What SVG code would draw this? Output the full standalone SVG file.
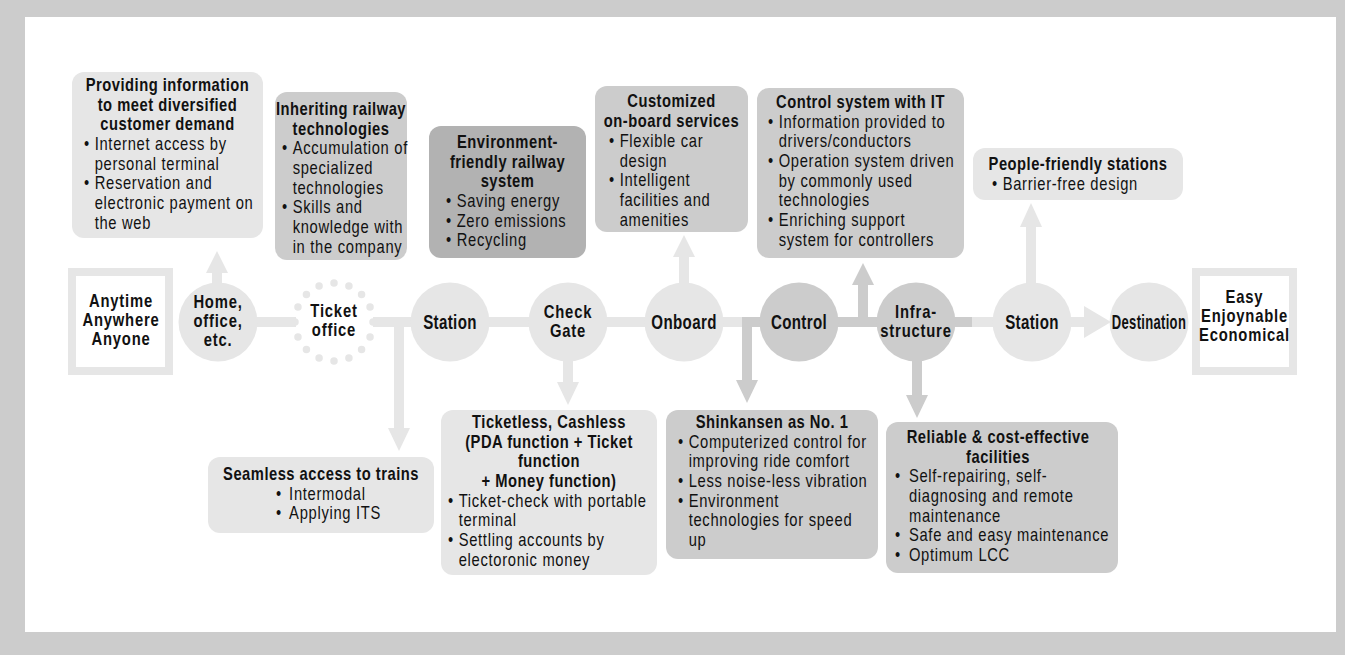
<svg xmlns="http://www.w3.org/2000/svg" width="1345" height="655" viewBox="0 0 1345 655">
<style>
text{font-family:"Liberation Sans",Arial,sans-serif;fill:#111111}
.t{font-size:18px;font-weight:bold;letter-spacing:0.6px}
.r{font-size:18px;letter-spacing:0.85px}
.c1{font-size:21px;font-weight:bold;letter-spacing:0.5px}
.c2{font-size:18.5px;font-weight:bold;letter-spacing:1px}
.e{font-size:18.5px;font-weight:bold;letter-spacing:1px}
.L{fill:#e6e6e6}
.M{fill:#cccccc}
.D{fill:#b2b2b2}
</style>
<rect x="0" y="0" width="1345" height="655" fill="#cccccc"/>
<rect x="25" y="17" width="1311" height="615" fill="#ffffff"/>

<g id="connectors">
<rect class="L" x="255" y="317" width="41" height="10"/>
<rect class="L" x="373" y="317" width="40" height="10"/>
<rect class="L" x="488" y="317" width="42" height="10"/>
<rect class="L" x="606" y="317" width="40" height="10"/>
<rect class="L" x="722" y="317" width="20" height="10"/>
<rect class="M" x="742" y="317" width="138" height="10"/>
<rect class="M" x="953" y="317" width="19" height="10"/>
<rect class="L" x="972" y="317" width="23" height="10"/>
<path class="L" d="M1070 317H1084V306L1111 322L1084 338V327H1070Z"/>
<path class="L" d="M212 284V273H206L217 251L228 273H222V284Z"/>
<path class="L" d="M679 284V257H673L684 235L695 257H689V284Z"/>
<path class="M" d="M858 322V285H852L863 263L874 285H868V322Z"/>
<path class="L" d="M1026 284V227H1020L1031 203L1042 227H1036V284Z"/>
<path class="L" d="M394 322V428H388L399 451L410 428H404V322Z"/>
<path class="L" d="M563 358V382H557L568 405L579 382H573V358Z"/>
<path class="M" d="M742 317V380H736L747 403L758 380H752V317Z"/>
<path class="M" d="M912 356V395H906L917 418L928 395H922V356Z"/>
</g>

<g id="n-anytime">
<rect x="72" y="272" width="97" height="99" fill="#ffffff" stroke="#e6e6e6" stroke-width="8"/>
<g transform="translate(121 0) scale(0.8 1)"><text class="e" text-anchor="middle"><tspan x="0" y="307">Anytime</tspan><tspan x="0" y="326">Anywhere</tspan><tspan x="0" y="345">Anyone</tspan></text></g>
</g>
<g id="n-home">
<circle class="L" cx="218" cy="322" r="39.5"/>
<g transform="translate(218 0) scale(0.8 1)"><text class="c2" text-anchor="middle"><tspan x="0" y="308.5">Home,</tspan><tspan x="0" y="327.5">office,</tspan><tspan x="0" y="346.5">etc.</tspan></text></g>
</g>
<g id="n-ticket">
<circle cx="334" cy="322" r="39" fill="none" stroke="#e6e6e6" stroke-width="7.5" stroke-linecap="round" stroke-dasharray="0 10" pathLength="160"/>
<g transform="translate(334 0) scale(0.8 1)"><text class="c2" text-anchor="middle"><tspan x="0" y="317.5">Ticket</tspan><tspan x="0" y="336.5">office</tspan></text></g>
</g>
<g id="n-station1">
<circle class="L" cx="450" cy="322" r="39.5"/>
<g transform="translate(450 0) scale(0.72 1)"><text class="c1" text-anchor="middle" x="0" y="329.5">Station</text></g>
</g>
<g id="n-check">
<circle class="L" cx="568" cy="322" r="39.5"/>
<g transform="translate(568 0) scale(0.8 1)"><text class="c2" text-anchor="middle"><tspan x="0" y="318.5">Check</tspan><tspan x="0" y="337.5">Gate</tspan></text></g>
</g>
<g id="n-onboard">
<circle class="L" cx="684" cy="322" r="39.5"/>
<g transform="translate(684 0) scale(0.72 1)"><text class="c1" text-anchor="middle" x="0" y="329.5">Onboard</text></g>
</g>
<g id="n-control">
<circle class="M" cx="799" cy="322" r="39.5"/>
<g transform="translate(799 0) scale(0.72 1)"><text class="c1" text-anchor="middle" x="0" y="329.5">Control</text></g>
</g>
<g id="n-infra">
<circle class="M" cx="916" cy="322" r="39.5"/>
<g transform="translate(916 0) scale(0.8 1)"><text class="c2" text-anchor="middle"><tspan x="0" y="318.5">Infra-</tspan><tspan x="0" y="337.5">structure</tspan></text></g>
</g>
<g id="n-station2">
<circle class="L" cx="1032" cy="322" r="39.5"/>
<g transform="translate(1032 0) scale(0.72 1)"><text class="c1" text-anchor="middle" x="0" y="329.5">Station</text></g>
</g>
<g id="n-destination">
<circle class="L" cx="1149" cy="322" r="39.5"/>
<g transform="translate(1149 0) scale(0.62 1)"><text class="c1" text-anchor="middle" x="0" y="329.5">Destination</text></g>
</g>
<g id="n-easy">
<rect x="1196" y="272" width="97" height="99" fill="#ffffff" stroke="#e6e6e6" stroke-width="8"/>
<g transform="translate(1244.5 0) scale(0.8 1)"><text class="e" text-anchor="middle"><tspan x="0" y="303">Easy</tspan><tspan x="0" y="322">Enjoynable</tspan><tspan x="0" y="341">Economical</tspan></text></g>
</g>

<g id="b-providing">
<rect class="L" x="72" y="72" width="191" height="166" rx="12"/>
<g transform="translate(167.5 0) scale(0.82 1)"><text class="t" text-anchor="middle"><tspan x="0" y="91">Providing information</tspan><tspan x="0" y="110.7">to meet diversified</tspan><tspan x="0" y="130.4">customer demand</tspan></text></g>
<g transform="translate(84 0) scale(0.82 1)"><text class="r"><tspan x="0" y="150.1">•</tspan><tspan x="13">Internet access by</tspan><tspan x="13" y="169.8">personal terminal</tspan><tspan x="0" y="189.5">•</tspan><tspan x="13">Reservation and</tspan><tspan x="13" y="209.2">electronic payment on</tspan><tspan x="13" y="228.9">the web</tspan></text></g>
</g>
<g id="b-inheriting">
<rect class="M" x="275" y="92" width="132" height="168" rx="12"/>
<g transform="translate(341 0) scale(0.82 1)"><text class="t" text-anchor="middle"><tspan x="0" y="115">Inheriting railway</tspan><tspan x="0" y="134.7">technologies</tspan></text></g>
<g transform="translate(282 0) scale(0.82 1)"><text class="r"><tspan x="0" y="154.4">•</tspan><tspan x="13">Accumulation of</tspan><tspan x="13" y="174.1">specialized</tspan><tspan x="13" y="193.8">technologies</tspan><tspan x="0" y="213.5">•</tspan><tspan x="13">Skills and</tspan><tspan x="13" y="233.2">knowledge with</tspan><tspan x="13" y="252.9">in the company</tspan></text></g>
</g>
<g id="b-environment">
<rect class="D" x="429" y="126" width="157" height="132" rx="12"/>
<g transform="translate(507.5 0) scale(0.82 1)"><text class="t" text-anchor="middle"><tspan x="0" y="148">Environment-</tspan><tspan x="0" y="167.7">friendly railway</tspan><tspan x="0" y="187.4">system</tspan></text></g>
<g transform="translate(446 0) scale(0.82 1)"><text class="r"><tspan x="0" y="207.1">•</tspan><tspan x="13">Saving energy</tspan><tspan x="0" y="226.8">•</tspan><tspan x="13">Zero emissions</tspan><tspan x="0" y="246.5">•</tspan><tspan x="13">Recycling</tspan></text></g>
</g>
<g id="b-customized">
<rect class="M" x="595" y="86" width="153" height="146" rx="12"/>
<g transform="translate(671.5 0) scale(0.82 1)"><text class="t" text-anchor="middle"><tspan x="0" y="107.5">Customized</tspan><tspan x="0" y="127.2">on-board services</tspan></text></g>
<g transform="translate(609 0) scale(0.82 1)"><text class="r"><tspan x="0" y="146.9">•</tspan><tspan x="13">Flexible car</tspan><tspan x="13" y="166.6">design</tspan><tspan x="0" y="186.3">•</tspan><tspan x="13">Intelligent</tspan><tspan x="13" y="206">facilities and</tspan><tspan x="13" y="225.7">amenities</tspan></text></g>
</g>
<g id="b-controlsys">
<rect class="M" x="757" y="88" width="207" height="170" rx="12"/>
<g transform="translate(860.5 0) scale(0.82 1)"><text class="t" text-anchor="middle"><tspan x="0" y="108">Control system with IT</tspan></text></g>
<g transform="translate(768 0) scale(0.82 1)"><text class="r"><tspan x="0" y="127.7">•</tspan><tspan x="13">Information provided to</tspan><tspan x="13" y="147.4">drivers/conductors</tspan><tspan x="0" y="167.1">•</tspan><tspan x="13">Operation system driven</tspan><tspan x="13" y="186.8">by commonly used</tspan><tspan x="13" y="206.5">technologies</tspan><tspan x="0" y="226.2">•</tspan><tspan x="13">Enriching support</tspan><tspan x="13" y="245.9">system for controllers</tspan></text></g>
</g>
<g id="b-people">
<rect class="L" x="973" y="148" width="210" height="52" rx="12"/>
<g transform="translate(1078 0) scale(0.82 1)"><text class="t" text-anchor="middle"><tspan x="0" y="170">People-friendly stations</tspan></text></g>
<g transform="translate(992 0) scale(0.82 1)"><text class="r"><tspan x="0" y="190">•</tspan><tspan x="13">Barrier-free design</tspan></text></g>
</g>
<g id="b-seamless">
<rect class="L" x="208" y="457" width="226" height="76" rx="12"/>
<g transform="translate(321 0) scale(0.82 1)"><text class="t" text-anchor="middle"><tspan x="0" y="480">Seamless access to trains</tspan></text></g>
<g transform="translate(276 0) scale(0.82 1)"><text class="r"><tspan x="0" y="499.7">•</tspan><tspan x="16">Intermodal</tspan><tspan x="0" y="519.4">•</tspan><tspan x="16">Applying ITS</tspan></text></g>
</g>
<g id="b-ticketless">
<rect class="L" x="441" y="410" width="216" height="165" rx="12"/>
<g transform="translate(549 0) scale(0.82 1)"><text class="t" text-anchor="middle"><tspan x="0" y="428">Ticketless, Cashless</tspan><tspan x="0" y="447.7">(PDA function + Ticket</tspan><tspan x="0" y="467.4">function</tspan><tspan x="0" y="487.1">+ Money function)</tspan></text></g>
<g transform="translate(448 0) scale(0.82 1)"><text class="r"><tspan x="0" y="506.8">•</tspan><tspan x="13">Ticket-check with portable</tspan><tspan x="13" y="526.5">terminal</tspan><tspan x="0" y="546.2">•</tspan><tspan x="13">Settling accounts by</tspan><tspan x="13" y="565.9">electoronic money</tspan></text></g>
</g>
<g id="b-shinkansen">
<rect class="M" x="666" y="410" width="212" height="149" rx="12"/>
<g transform="translate(772 0) scale(0.82 1)"><text class="t" text-anchor="middle"><tspan x="0" y="428">Shinkansen as No. 1</tspan></text></g>
<g transform="translate(678 0) scale(0.82 1)"><text class="r"><tspan x="0" y="447.7">•</tspan><tspan x="13">Computerized control for</tspan><tspan x="13" y="467.4">improving ride comfort</tspan><tspan x="0" y="487.1">•</tspan><tspan x="13">Less noise-less vibration</tspan><tspan x="0" y="506.8">•</tspan><tspan x="13">Environment</tspan><tspan x="13" y="526.5">technologies for speed</tspan><tspan x="13" y="546.2">up</tspan></text></g>
</g>
<g id="b-reliable">
<rect class="M" x="886" y="422" width="232" height="151" rx="12"/>
<g transform="translate(998 0) scale(0.82 1)"><text class="t" text-anchor="middle"><tspan x="0" y="443">Reliable &amp; cost-effective</tspan><tspan x="0" y="462.7">facilities</tspan></text></g>
<g transform="translate(895 0) scale(0.82 1)"><text class="r"><tspan x="0" y="482.4">•</tspan><tspan x="17">Self-repairing, self-</tspan><tspan x="17" y="502.1">diagnosing and remote</tspan><tspan x="17" y="521.8">maintenance</tspan><tspan x="0" y="541.5">•</tspan><tspan x="17">Safe and easy maintenance</tspan><tspan x="0" y="561.2">•</tspan><tspan x="17">Optimum LCC</tspan></text></g>
</g>
</svg>
